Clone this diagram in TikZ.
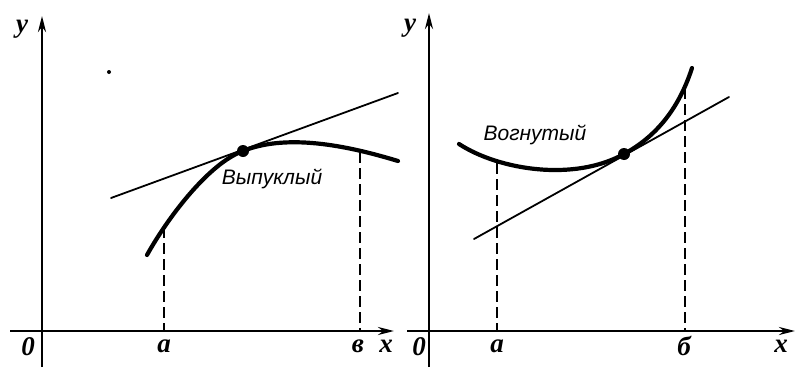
\documentclass[tikz,border=0pt]{standalone}
\usepackage{fontspec}
\setmainfont{Liberation Serif}
\newfontfamily\lblfont{Liberation Sans}
\usetikzlibrary{arrows.meta}
\begin{document}
\begin{tikzpicture}[x=1pt,y=-1pt,
  axis/.style={line width=2.6pt,-{Stealth[length=16pt,width=8pt]}},
  curve/.style={line width=4.2pt,line cap=round},
  tang/.style={line width=1.8pt,line cap=round},
  drop/.style={line width=2pt,dash pattern=on 11pt off 5pt},
  lett/.style={font=\fontsize{27}{27}\selectfont\bfseries\itshape,inner sep=0pt},
  word/.style={font=\fontsize{21}{21}\selectfont\lblfont\itshape,inner sep=0pt},
  tdot/.style={circle,fill,inner sep=0pt,minimum size=12pt}]
\useasboundingbox (0,0) rectangle (797,367);
% ---------- left panel ----------
\coordinate (ly0) at (42,367);
\coordinate (ly1) at (42,16);
\coordinate (lx0) at (10,331);
\coordinate (lx1) at (394,331);
\draw[axis] (ly0) -- (ly1);
\draw[axis] (lx0) -- (lx1);
\node[lett] (ly) at (22,29) {y};
\node[lett] (lo) at (28,347) {0};
\node[lett] (la) at (164,346) {a};
\node[lett] (lb) at (358,346) {в};
\node[lett] (lx) at (386,346) {x};
\node[circle,fill,inner sep=0pt,minimum size=4pt] (speck) at (109,72) {};
\node[tdot] (lp) at (243,151) {};
\coordinate (lc0) at (147,255);
\coordinate (lc1) at (398,161);
\draw[curve] (lc0) .. controls (167,219) and (208,163.8) .. (lp.center)
  .. controls (290,132) and (355,148) .. (lc1);
\coordinate (lt0) at (111,198);
\coordinate (lt1) at (398,93);
\draw[tang] (lt0) -- (lt1);
\coordinate (lat) at (164,227);
\coordinate (lbt) at (360,152);
\coordinate (lab) at (164,331);
\coordinate (lbb) at (360,331);
\draw[drop] (lat) -- (lab);
\draw[drop] (lbt) -- (lbb);
\node[word] (lw) at (272,179) {Выпуклый};
% ---------- right panel ----------
\coordinate (ry0) at (429,367);
\coordinate (ry1) at (429,13);
\coordinate (rx0) at (407,331);
\coordinate (rx1) at (795,331);
\draw[axis] (ry0) -- (ry1);
\draw[axis] (rx0) -- (rx1);
\node[lett] (ry) at (410,28) {y};
\node[lett] (ro) at (419,347) {0};
\node[lett] (ra) at (497,346) {a};
\node[lett] (rb) at (684,346) {б};
\node[lett] (rx) at (781,346) {x};
\node[tdot] (rp) at (624,154) {};
\coordinate (rc0) at (459,144);
\coordinate (rc1) at (692,68);
\draw[curve] (rc0) .. controls (499,170) and (574,181.9) .. (rp.center)
  .. controls (657,136) and (679,108) .. (rc1);
\coordinate (rt0) at (474,239);
\coordinate (rt1) at (729,97);
\draw[tang] (rt0) -- (rt1);
\coordinate (rat) at (497,163);
\coordinate (rbt) at (685,88);
\coordinate (rab) at (497,331);
\coordinate (rbb) at (685,331);
\draw[drop] (rat) -- (rab);
\draw[drop] (rbt) -- (rbb);
\node[word] (rw) at (535,135) {Вогнутый};
\end{tikzpicture}
\end{document}
